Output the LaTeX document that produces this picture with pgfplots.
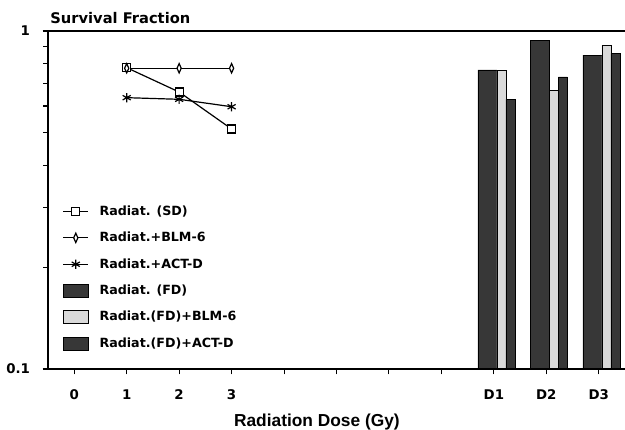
\documentclass[border=0pt]{standalone}
\usepackage{fontspec}
\setmainfont{DejaVu Sans}
\newfontfamily\lib{Liberation Sans}
\usepackage{pgfplots}
\pgfplotsset{compat=1.18}
\definecolor{bardark}{RGB}{55,55,55}
\definecolor{barlight}{RGB}{218,218,218}
\pgfplotsset{
  barleg/.style={legend image code/.code={\draw[##1] (0pt,-4.9pt) rectangle (18.75pt,4.9pt);}},
  lineleg/.style={legend image code/.code={\draw[mark repeat=2,mark phase=2,##1] plot coordinates {(0pt,0pt) (9.4pt,0pt) (18.75pt,0pt)};}},
}
\begin{document}
\begin{tikzpicture}
\begin{axis}[
  at={(0,0)}, anchor=south west,
  scale only axis, width=432.75pt, height=253.5pt,
  ymode=log, ymin=0.1, ymax=1, xmin=-0.5, xmax=10.5,
  log origin=infty,
  axis line style={draw=none},
  xtick={0,1,2,3,4,5,6,7,8,9,10},
  xticklabels={0,1,2,3,{},{},{},{},D1,D2,D3},
  ytick={0.1,1}, yticklabels={0.1,1},
  minor ytick={0.2,0.3,0.4,0.5,0.6,0.7,0.8,0.9},
  xtick pos=bottom, ytick pos=left,
  tick align=outside,
  major tick length=4pt, minor tick length=3.5pt,
  tick style={black, line width=0.8pt},
  ticklabel style={font=\bfseries\fontsize{10}{12}\selectfont},
  xticklabel style={yshift=-8pt},
  yticklabel style={xshift=-6pt},
  xlabel={Radiation Dose (Gy)},
  xlabel style={font=\lib\bfseries\fontsize{13}{15}\selectfont, at={(axis description cs:0.466,0)}, anchor=center, yshift=-40pt},
  legend style={at={(axis description cs:0.018,0.5)}, anchor=north west, draw=none, fill=none, font=\bfseries\fontsize{9.5}{11}\selectfont, row sep=7.1pt, column sep=6pt},
  legend cell align=left,
  clip=false,
]
\addplot[black, line width=0.9pt, mark=square*, mark size=3pt, mark options={fill=white, solid}, lineleg] coordinates {(1,0.779) (2,0.660) (3,0.513)};
\addlegendentry{Radiat. (SD)}
\addplot[black, line width=0.9pt, mark=diamond*, mark size=3.5pt, mark options={fill=white, solid, xscale=0.6}, lineleg] coordinates {(1,0.776) (2,0.776) (3,0.776)};
\addlegendentry{Radiat.+BLM-6}
\addplot[black, line width=0.9pt, mark=asterisk, mark size=3.5pt, lineleg] coordinates {(1,0.635) (2,0.628) (3,0.597)};
\addlegendentry{Radiat.+ACT-D}
\addplot[ybar, bar width=14.25pt, bar shift=-4.875pt, fill=bardark, draw=black, barleg] coordinates {(8,0.767) (9,0.936) (10,0.849)};
\addlegendentry{Radiat. (FD)}
\addplot[ybar, bar width=6.75pt, bar shift=5.625pt, fill=barlight, draw=black, barleg] coordinates {(8,0.765) (9,0.669) (10,0.909)};
\addlegendentry{Radiat.(FD)+BLM-6}
\addplot[ybar, bar width=6.75pt, bar shift=12.375pt, fill=bardark, draw=black, barleg] coordinates {(8,0.628) (9,0.732) (10,0.859)};
\addlegendentry{Radiat.(FD)+ACT-D}
\draw[line width=1pt] (rel axis cs:0,1) -- (rel axis cs:0,0) -- (rel axis cs:1,0);
\draw[line width=1pt] (rel axis cs:0,1) -- (rel axis cs:1,1);
\node[anchor=west, font=\bfseries\fontsize{11}{13}\selectfont] at (axis description cs:-0.004,1.0385) {Survival Fraction};
\end{axis}
\pgfresetboundingbox
\useasboundingbox (-36pt,-45pt) rectangle (432.75pt,276.75pt);
\end{tikzpicture}
\end{document}
